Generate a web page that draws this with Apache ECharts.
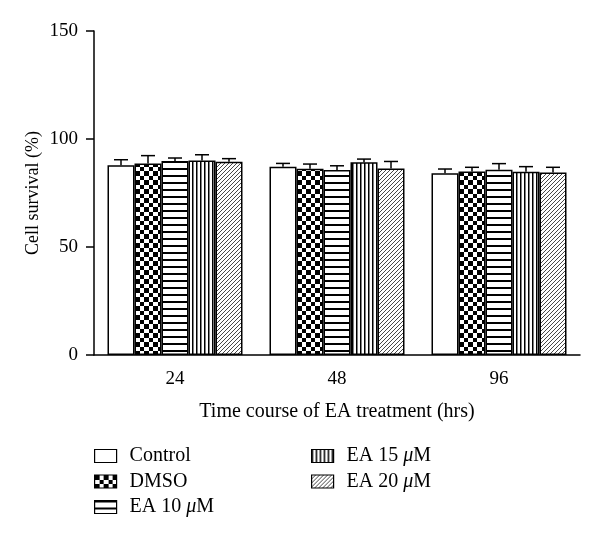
<!DOCTYPE html>
<html>
<head>
<meta charset="utf-8">
<script src="https://cdn.jsdelivr.net/npm/echarts@6/dist/echarts.min.js"></script>
<style>html,body{margin:0;padding:0;background:#fff;}#c{width:600px;height:539px;}</style>
</head>
<body>
<div id="c"></div>
<script>
// ---- data ----
var categories = ['24', '48', '96'];
var seriesNames = ['Control', 'DMSO', 'EA 10 μM', 'EA 15 μM', 'EA 20 μM'];
var control = [87.8, 87.2, 84.1];
var dmso    = [88.6, 86.2, 85.0];
var ea10    = [89.8, 85.6, 85.8];
var ea15    = [90.0, 89.2, 84.8];
var ea20    = [89.5, 86.4, 84.5];
var controlErr = [2.6, 1.5, 2.0];
var dmsoErr    = [3.7, 2.2, 1.9];
var ea10Err    = [1.4, 2.0, 2.8];
var ea15Err    = [2.7, 1.5, 2.4];
var ea20Err    = [1.4, 3.2, 2.4];
var yTicks = [0, 50, 100, 150];

var means = [control, dmso, ea10, ea15, ea20];
var errs = [controlErr, dmsoErr, ea10Err, ea15Err, ea20Err];

var FONT = '"Liberation Serif", "DejaVu Serif", serif';
var BAR_W = 27;
var CAP = 14;

function makeCanvas(w, h, draw) {
  var c = document.createElement('canvas');
  c.width = w; c.height = h;
  var ctx = c.getContext('2d');
  ctx.fillStyle = '#fff';
  ctx.fillRect(0, 0, w, h);
  draw(ctx, w, h);
  return c;
}
var patterns = [
  '#ffffff',
  { image: makeCanvas(9, 9, function (ctx) {
      ctx.fillStyle = '#000';
      ctx.fillRect(0, 0, 5, 5);
      ctx.fillRect(5, 5, 4, 4);
    }), repeat: 'repeat' },
  { image: makeCanvas(8, 7, function (ctx, w) {
      ctx.fillStyle = '#000';
      ctx.fillRect(0, 0, w, 2);
    }), repeat: 'repeat' },
  { image: makeCanvas(4, 8, function (ctx, w, h) {
      ctx.fillStyle = '#000';
      ctx.fillRect(0, 0, 1.5, h);
    }), repeat: 'repeat' },
  { image: makeCanvas(4, 4, function (ctx, w, h) {
      ctx.strokeStyle = '#333';
      ctx.lineWidth = 0.9;
      ctx.beginPath();
      ctx.moveTo(0, h); ctx.lineTo(w, 0);
      ctx.moveTo(-1, 1); ctx.lineTo(1, -1);
      ctx.moveTo(w - 1, h + 1); ctx.lineTo(w + 1, h - 1);
      ctx.stroke();
    }), repeat: 'repeat' }
];

function errRender(k) {
  return function (params, api) {
    var ci = api.value(0);
    var base = api.coord([ci, api.value(1)]);
    var top = api.coord([ci, api.value(2)]);
    var x = base[0] + (k - 2) * BAR_W;
    return {
      type: 'group',
      children: [
        { type: 'line', shape: { x1: x, y1: base[1], x2: x, y2: top[1] }, style: { stroke: '#000', lineWidth: 1.5 } },
        { type: 'line', shape: { x1: x - CAP / 2, y1: top[1], x2: x + CAP / 2, y2: top[1] }, style: { stroke: '#000', lineWidth: 1.5 } }
      ]
    };
  };
}

var series = [];
for (var k = 0; k < 5; k++) {
  series.push({
    name: seriesNames[k],
    type: 'bar',
    barWidth: BAR_W,
    barGap: '0%',
    data: means[k],
    itemStyle: { color: patterns[k], borderColor: '#000', borderWidth: 1.5 },
    emphasis: { disabled: true },
    z: 2
  });
}
for (var k2 = 0; k2 < 5; k2++) {
  series.push({
    name: 'err' + k2,
    type: 'custom',
    renderItem: errRender(k2),
    data: categories.map(function (c, i) { return [i, means[k2][i], means[k2][i] + errs[k2][i]]; }),
    z: 3,
    silent: true
  });
}

function legendFmt(name) { return name.replace('μ', '{i|μ}'); }
var legendText = {
  fontFamily: FONT, fontSize: 20, color: '#000', lineHeight: 20, padding: [0, 0, 0, 8],
  rich: { i: { fontFamily: FONT, fontSize: 20, fontStyle: 'italic', color: '#000' } }
};

var chart = echarts.init(document.getElementById('c'), null, { renderer: 'canvas' });
chart.setOption({
  animation: false,
  backgroundColor: '#fff',
  grid: { left: 94, right: 20, top: 31, bottom: 184 },
  legend: [
    { data: seriesNames.slice(0, 3), orient: 'vertical', left: 94, top: 446, padding: 0, icon: 'rect',
      itemWidth: 22, itemHeight: 13, itemGap: 5.5, formatter: legendFmt, textStyle: legendText,
      itemStyle: { borderColor: '#000', borderWidth: 1.2 }, selectedMode: false },
    { data: seriesNames.slice(3), orient: 'vertical', left: 311, top: 446, padding: 0, icon: 'rect',
      itemWidth: 22, itemHeight: 13, itemGap: 5.5, formatter: legendFmt, textStyle: legendText,
      itemStyle: { borderColor: '#000', borderWidth: 1.2 }, selectedMode: false }
  ],
  xAxis: {
    type: 'category',
    data: categories,
    name: 'Time course of EA treatment (hrs)',
    nameLocation: 'middle',
    nameGap: 47,
    nameMoveOverlap: false,
    nameTextStyle: { fontFamily: FONT, fontSize: 20, color: '#000' },
    axisLine: { lineStyle: { color: '#000', width: 1.5 } },
    axisTick: { alignWithLabel: true, length: 8, lineStyle: { color: '#000', width: 1.5 } },
    axisLabel: { fontFamily: FONT, fontSize: 19, color: '#000', margin: 15 }
  },
  yAxis: {
    type: 'value',
    min: yTicks[0],
    max: yTicks[yTicks.length - 1],
    interval: 50,
    name: 'Cell survival (%)',
    nameLocation: 'middle',
    nameGap: 52,
    nameMoveOverlap: false,
    nameTextStyle: { fontFamily: FONT, fontSize: 18, color: '#000' },
    axisLine: { show: true, lineStyle: { color: '#000', width: 1.5 } },
    axisTick: { show: true, length: 8, lineStyle: { color: '#000', width: 1.5 } },
    axisLabel: { fontFamily: FONT, fontSize: 19, color: '#000', margin: 16 },
    splitLine: { show: false }
  },
  series: series
});
</script>
</body>
</html>
